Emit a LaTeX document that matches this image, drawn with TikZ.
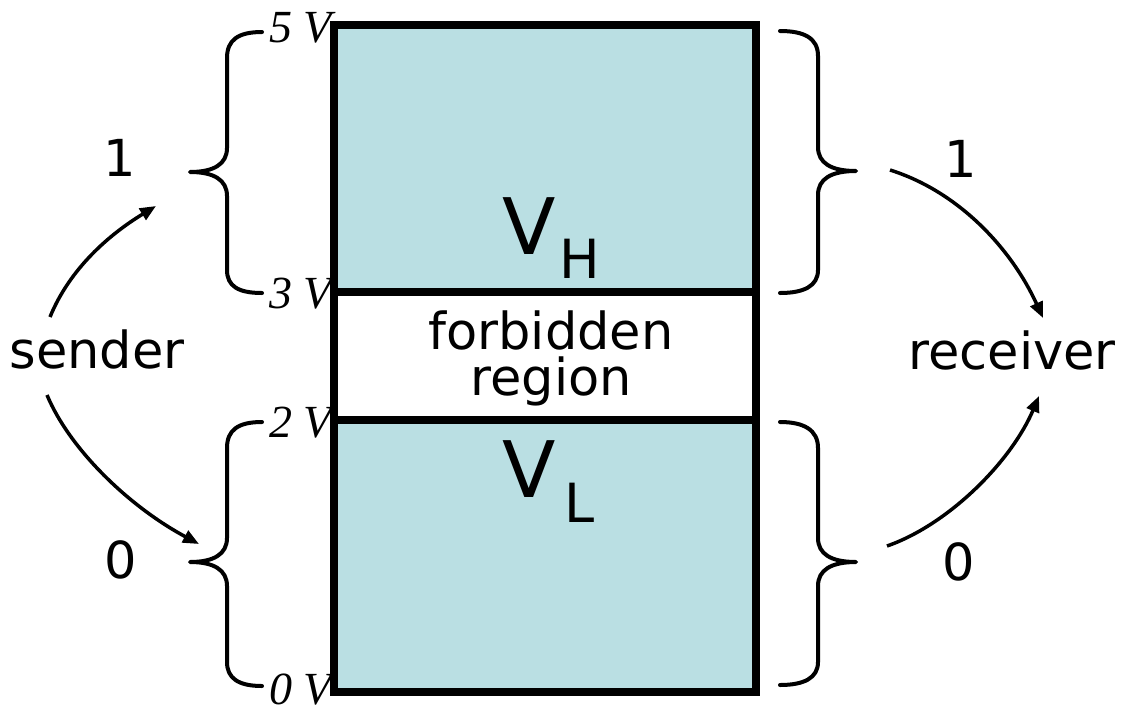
\documentclass[tikz,border=0pt]{standalone}
\usepackage{fontspec}
\setmainfont{DejaVu Sans}
\newfontfamily\voltfont{Liberation Serif}
\usetikzlibrary{arrows.meta}
\definecolor{bandfill}{RGB}{186,223,227}
\begin{document}
\begin{tikzpicture}[x=1pt,y=-1pt,
  band/.style={draw=black, line width=8pt, inner sep=0pt, outer sep=0pt, minimum width=422.5pt},
  brace/.style={draw=black, line width=4pt, line cap=round, line join=round},
  flow/.style={draw=black, line width=3.5pt, -{Triangle[length=16pt,width=13pt]}},
  word/.style={inner sep=0pt, anchor=base, font=\fontsize{51}{51}\selectfont},
  volt/.style={inner sep=0pt, anchor=base east, font=\voltfont\itshape\fontsize{46}{46}\selectfont},
  big/.style={inner sep=0pt, anchor=base west}
]
\useasboundingbox (0,0) rectangle (1131,707);
\fill[white] (0,0) rectangle (1131,707);

% bands
\node[band, fill=bandfill, minimum height=267pt] (high) at (544.75,158.5) {};
\node[band, fill=white, minimum height=128pt] (forb) at (544.75,356) {};
\node[band, fill=bandfill, minimum height=272pt] (low) at (544.75,556) {};

% voltage labels
\node[volt] (v5) at (332,42) {5\hspace{0.25em}V};
\node[volt] (v3) at (332,308) {3\hspace{0.25em}V};
\node[volt] (v2) at (332,437) {2\hspace{0.25em}V};
\node[volt] (v0) at (332,704) {0\hspace{0.25em}V};

% band texts
\node[big] (vh) at (502,254) {\fontsize{78}{78}\selectfont V\kern4pt\raisebox{-24pt}{\fontsize{54}{54}\selectfont H}};
\node[big] (vl) at (502,497) {\fontsize{78}{78}\selectfont V\kern9pt\raisebox{-25pt}{\fontsize{54}{54}\selectfont L}};
\node[inner sep=0pt, align=center, font=\fontsize{51}{46}\selectfont] (forbidden) at (551,358) {forbidden\\region};

% braces
\path[brace] (262,32) .. controls (238,32) and (227,40) .. (227,58) -- (227,148)
  .. controls (227,164) and (214,172) .. (190,172)
  .. controls (214,172) and (227,180) .. (227,196) -- (227,270)
  .. controls (227,286) and (238,293) .. (262,293);
\path[brace] (262,422) .. controls (238,422) and (227,430) .. (227,448) -- (227,538)
  .. controls (227,554) and (214,562) .. (190,562)
  .. controls (214,562) and (227,570) .. (227,586) -- (227,662)
  .. controls (227,678) and (238,686) .. (262,686);
\path[brace] (780,31) .. controls (804,31) and (818,38) .. (818,56) -- (818,147)
  .. controls (818,163) and (831,171) .. (856,171)
  .. controls (831,171) and (818,179) .. (818,195) -- (818,270)
  .. controls (818,286) and (804,293) .. (780,293);
\path[brace] (780,422) .. controls (804,422) and (818,430) .. (818,448) -- (818,538)
  .. controls (818,554) and (831,562) .. (856,562)
  .. controls (831,562) and (818,570) .. (818,586) -- (818,662)
  .. controls (818,678) and (804,685) .. (780,685);

% side texts
\node[word] (sender) at (97,368) {sender};
\node[word] (receiver) at (1012,369) {receiver};
\node[word] (oneL) at (120,176) {1};
\node[word] (zeroL) at (121,578) {0};
\node[word] (oneR) at (961,177) {1};
\node[word] (zeroR) at (959,580) {0};

% arrow ends
\coordinate (sUp) at (50,317);
\coordinate (tUp) at (156,206);
\coordinate (sDn) at (47,395);
\coordinate (tDn) at (199,544);
\coordinate (rUpS) at (890,170);
\coordinate (rUpT) at (1043,318);
\coordinate (rDnS) at (887,546);
\coordinate (rDnT) at (1039,396);

\draw[flow] (sUp) .. controls (70,268) and (110,234) .. (tUp);
\draw[flow] (sDn) .. controls (70,450) and (130,507) .. (tDn);
\draw[flow] (rUpS) .. controls (960,192) and (1012,250) .. (rUpT);
\draw[flow] (rDnS) .. controls (950,524) and (1012,460) .. (rDnT);
\end{tikzpicture}
\end{document}
